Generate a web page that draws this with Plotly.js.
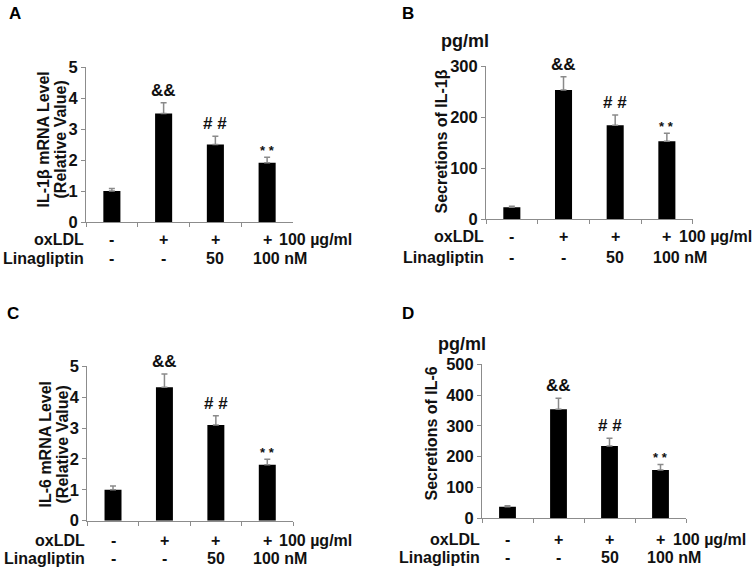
<!DOCTYPE html>
<html>
<head>
<meta charset="utf-8">
<script src="https://cdn.plot.ly/plotly-3.0.1.min.js"></script>
<style>html,body{margin:0;padding:0;background:#fff;}#chart{width:753px;height:568px;}</style>
</head>
<body>
<div id="chart"></div>
<script>
// ---- data ----
const groups = ["Control", "oxLDL", "oxLDL+Lina50", "oxLDL+Lina100"];
const il1bMRNA = [1.0, 3.5, 2.5, 1.91];
const il1bMRNAErr = [0.08, 0.35, 0.27, 0.18];
const il1bSecretion = [23.5, 253, 184, 152.5];
const il1bSecretionErr = [2, 26, 20, 16];
const il6MRNA = [1.0, 4.32, 3.1, 1.81];
const il6MRNAErr = [0.12, 0.43, 0.3, 0.18];
const il6Secretion = [37.5, 354, 235, 157];
const il6SecretionErr = [3, 36, 25, 18];
const sigMarks = ["", "&&", "# #", "* *"];
const oxLDLRow = ["-", "+", "+", "+"];
const linaRow = ["-", "-", "50", "100"];
const oxLDLUnit = "100 µg/ml";
const linaUnit = "nM";
const panelLetters = ["A", "B", "C", "D"];
const yTitles = [["IL-1β mRNA Level", "(Relative Value)"], ["Secretions of IL-1β"], ["IL-6 mRNA Level", "(Relative Value)"], ["Secretions of IL-6"]];
const yTickVals = [[0, 1, 2, 3, 4, 5], [0, 100, 200, 300], [0, 1, 2, 3, 4, 5], [0, 100, 200, 300, 400, 500]];
const yRanges = [[0, 5], [0, 300], [0, 5], [0, 500]];

// ---- layout geometry (pixels) ----
const W = 753, H = 568;
const px = v => v / W;
const py = v => 1 - v / H;
const panels = [
  {x0: 86, x1: 293, yTop: 67, yBot: 222, rowY: [239.5, 258.5], titleX: [43, 60], titleY: 139.5, letter: [15, 13.5], pg: null},
  {x0: 486, x1: 692.7, yTop: 66, yBot: 219.3, rowY: [237, 257], titleX: [441], titleY: 141.5, letter: [407.5, 14], pg: [465, 41]},
  {x0: 87.3, x1: 293, yTop: 366.3, yBot: 520.7, rowY: [540.5, 558.5], titleX: [45, 62], titleY: 444.5, letter: [13, 313.5], pg: null},
  {x0: 482, x1: 686, yTop: 364.3, yBot: 518.3, rowY: [539, 557], titleX: [431], titleY: 433.5, letter: [407.5, 313.5], pg: [462, 344]}
];
const values = [il1bMRNA, il1bSecretion, il6MRNA, il6Secretion];
const errs = [il1bMRNAErr, il1bSecretionErr, il6MRNAErr, il6SecretionErr];

const axisColor = "#8c8c8c";
const FAM = "Arial, Liberation Sans, sans-serif";
const font = {family: FAM, size: 16, color: "#111", weight: 700};
const b = s => "<b>" + s + "</b>";

const traces = [];
const annotations = [];
const layout = {
  width: W, height: H,
  margin: {l: 0, r: 0, t: 0, b: 0},
  paper_bgcolor: "#fff", plot_bgcolor: "#fff",
  showlegend: false,
  font: font,
  annotations: annotations
};

panels.forEach((p, i) => {
  const n = i + 1;
  const xa = "x" + (n === 1 ? "" : n);
  const ya = "y" + (n === 1 ? "" : n);
  traces.push({
    type: "bar",
    x: groups,
    y: values[i],
    xaxis: xa, yaxis: ya,
    width: 0.33,
    marker: {color: "#000"},
    error_y: {type: "data", symmetric: false, array: errs[i], arrayminus: errs[i].map(() => 0),
              color: "#8a8a8a", thickness: 1.5, width: 3},
    hoverinfo: "skip"
  });
  layout["xaxis" + (n === 1 ? "" : n)] = {
    domain: [px(p.x0), px(p.x1)],
    anchor: ya,
    type: "category",
    range: [-0.5, 3.5],
    showline: true, linecolor: axisColor, linewidth: 1,
    ticks: "outside", tickson: "boundaries", ticklen: 4, tickcolor: axisColor,
    showticklabels: false, showgrid: false, zeroline: false, fixedrange: true
  };
  layout["yaxis" + (n === 1 ? "" : n)] = {
    domain: [py(p.yBot), py(p.yTop)],
    anchor: xa,
    range: yRanges[i],
    tickmode: "array", tickvals: yTickVals[i], ticktext: yTickVals[i].map(v => b(v)),
    showline: true, linecolor: axisColor, linewidth: 1,
    ticks: "outside", ticklen: 4, tickcolor: axisColor,
    tickfont: {family: FAM, size: 16.5, color: "#111", weight: 700},
    showgrid: false, zeroline: false, fixedrange: true
  };
  // significance marks
  groups.forEach((g, k) => {
    if (!sigMarks[k]) return;
    const small = sigMarks[k].indexOf("*") >= 0;
    annotations.push({
      xref: xa, yref: ya, x: k, y: values[i][k] + errs[i][k],
      text: b(sigMarks[k]), showarrow: false, yanchor: "bottom",
      yshift: small ? -3 : 1,
      font: {family: FAM, size: small ? 13 : 17, color: "#111", weight: 700}
    });
  });
  // row labels
  annotations.push({xref: "paper", yref: "paper", x: px(p.x0), y: py(p.rowY[0]), text: b("oxLDL"),
    showarrow: false, xanchor: "right", yanchor: "middle"});
  annotations.push({xref: "paper", yref: "paper", x: px(p.x0), y: py(p.rowY[1]), text: b("Linagliptin"),
    showarrow: false, xanchor: "right", yanchor: "middle"});
  groups.forEach((g, k) => {
    annotations.push({xref: xa, yref: "paper", x: k, y: py(p.rowY[0]), text: b(oxLDLRow[k]),
      showarrow: false, xanchor: "center", yanchor: "middle"});
    if (k < 3) {
      annotations.push({xref: xa, yref: "paper", x: k, y: py(p.rowY[1]), text: b(linaRow[k]),
        showarrow: false, xanchor: "center", yanchor: "middle"});
    } else {
      annotations.push({xref: xa, yref: "paper", x: k, y: py(p.rowY[1]), text: b(linaRow[k] + " " + linaUnit),
        showarrow: false, xanchor: "left", xshift: -16, yanchor: "middle"});
    }
  });
  annotations.push({xref: xa, yref: "paper", x: 3, y: py(p.rowY[0]), text: b(oxLDLUnit),
    showarrow: false, xanchor: "left", xshift: 10, yanchor: "middle"});
  // y title (one annotation per line)
  yTitles[i].forEach((line, j) => {
    annotations.push({xref: "paper", yref: "paper", x: px(p.titleX[j]), y: py(p.titleY),
      text: b(line),
      showarrow: false, textangle: -90, xanchor: "center", yanchor: "middle",
      font: {family: FAM, size: 16, color: "#111", weight: 700}});
  });
  // panel letter
  annotations.push({xref: "paper", yref: "paper", x: px(p.letter[0]), y: py(p.letter[1]), text: b(panelLetters[i]),
    showarrow: false, xanchor: "center", yanchor: "middle",
    font: {family: FAM, size: 17, color: "#000", weight: 700}});
  if (p.pg) {
    annotations.push({xref: "paper", yref: "paper", x: px(p.pg[0]), y: py(p.pg[1]), text: b("pg/ml"),
      showarrow: false, xanchor: "center", yanchor: "middle",
      font: {family: FAM, size: 18, color: "#111", weight: 700}});
  }
});

Plotly.newPlot("chart", traces, layout, {staticPlot: true, displayModeBar: false});
</script>
</body>
</html>
